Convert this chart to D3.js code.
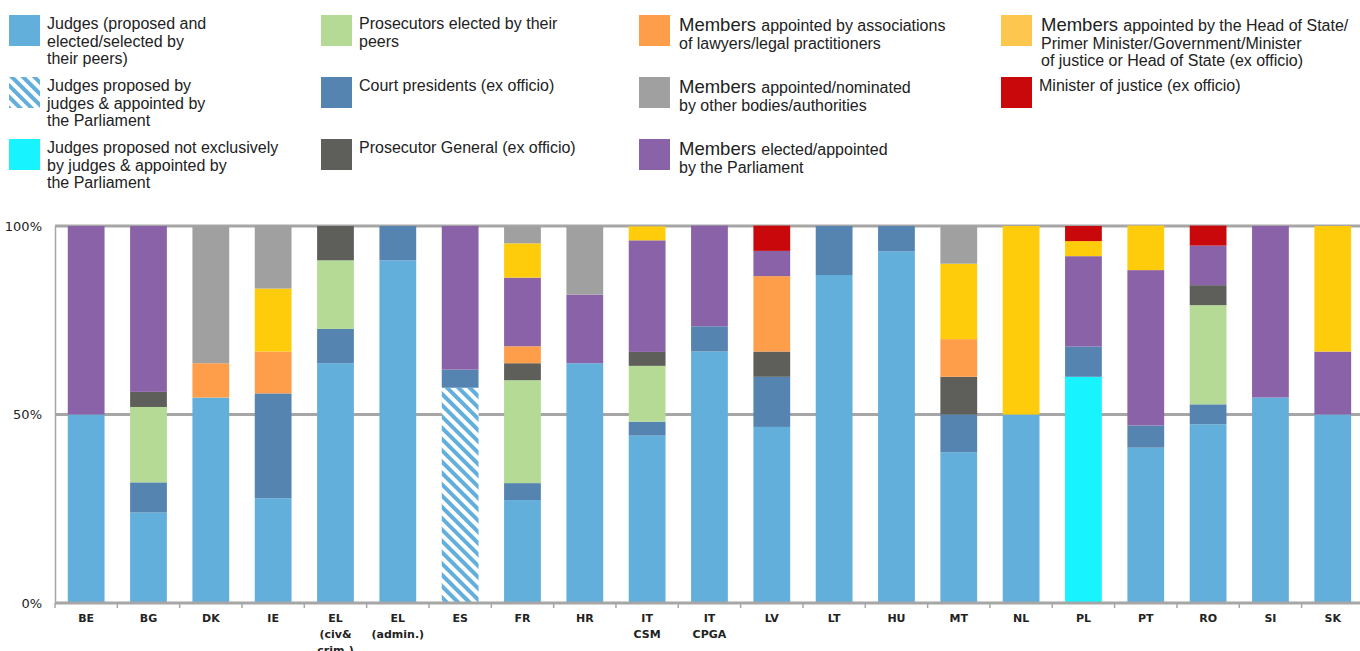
<!DOCTYPE html>
<html>
<head>
<meta charset="utf-8">
<script src="https://cdn.jsdelivr.net/npm/d3@7"></script>
<style>
  body { margin: 0; background: #fff; }
  svg { display: block; font-family: "Liberation Sans", Arial, sans-serif; }
</style>
</head>
<body>
<div class="chart-page"></div>
<script>
// categories (multi-line labels)
let categories = ["BE", "BG", "DK", "IE", "EL (civ&", "EL (admin.)", "ES", "FR", "HR", "IT CSM",
  "IT CPGA", "LV", "LT", "HU", "MT", "NL", "PL", "PT", "RO", "SI", "SK"];
let categoryLabels = [["BE"], ["BG"], ["DK"], ["IE"], ["EL", "(civ&", "crim.)"], ["EL", "(admin.)"],
  ["ES"], ["FR"], ["HR"], ["IT", "CSM"], ["IT", "CPGA"], ["LV"], ["LT"], ["HU"], ["MT"], ["NL"],
  ["PL"], ["PT"], ["RO"], ["SI"], ["SK"]];

// shares in % per council (same order as categories)
let judges       = [50, 24, 54.5, 27.8, 63.6, 90.9, 0, 27.3, 63.6, 44.4, 66.7, 46.7, 87, 93.3, 40, 50, 0, 41.2, 47.4, 54.5, 50];
let judgesParl   = [0, 0, 0, 0, 0, 0, 57.1, 0, 0, 0, 0, 0, 0, 0, 0, 0, 0, 0, 0, 0, 0];
let judgesMixed  = [0, 0, 0, 0, 0, 0, 0, 0, 0, 0, 0, 0, 0, 0, 0, 0, 60, 0, 0, 0, 0];
let courtPres    = [0, 8, 0, 27.8, 9.1, 9.1, 4.8, 4.5, 0, 3.7, 6.7, 13.3, 13, 6.7, 10, 0, 8, 5.9, 5.3, 0, 0];
let prosecutors  = [0, 20, 0, 0, 18.2, 0, 0, 27.3, 0, 14.8, 0, 0, 0, 0, 0, 0, 0, 0, 26.3, 0, 0];
let prosGeneral  = [0, 4, 0, 0, 9.1, 0, 0, 4.5, 0, 3.7, 0, 6.7, 0, 0, 10, 0, 0, 0, 5.3, 0, 0];
let lawyers      = [0, 0, 9.1, 11.1, 0, 0, 0, 4.5, 0, 0, 0, 20, 0, 0, 10, 0, 0, 0, 0, 0, 0];
let parliament   = [50, 44, 0, 0, 0, 0, 38.1, 18.2, 18.2, 29.6, 26.7, 6.7, 0, 0, 0, 0, 24, 41.2, 10.5, 45.5, 16.7];
let headOfState  = [0, 0, 0, 16.7, 0, 0, 0, 9.1, 0, 3.7, 0, 0, 0, 0, 20, 50, 4, 11.8, 0, 0, 33.3];
let otherBodies  = [0, 0, 36.4, 16.7, 0, 0, 0, 4.5, 18.2, 0, 0, 0, 0, 0, 10, 0, 0, 0, 0, 0, 0];
let minister     = [0, 0, 0, 0, 0, 0, 0, 0, 0, 0, 0, 6.7, 0, 0, 0, 0, 4, 0, 5.3, 0, 0];

let yTicks = [0, 50, 100];

let series = [
  { key: "judges", values: judges, color: "#62afdc" },
  { key: "judgesParl", values: judgesParl, color: "url(#hatch)" },
  { key: "judgesMixed", values: judgesMixed, color: "#17f4ff" },
  { key: "courtPres", values: courtPres, color: "#5584b0" },
  { key: "prosecutors", values: prosecutors, color: "#b4da96" },
  { key: "prosGeneral", values: prosGeneral, color: "#5e5f5a" },
  { key: "lawyers", values: lawyers, color: "#ff9e4a" },
  { key: "parliament", values: parliament, color: "#8a62a8" },
  { key: "headOfState", values: headOfState, color: "#ffcc0c" },
  { key: "otherBodies", values: otherBodies, color: "#a0a0a0" },
  { key: "minister", values: minister, color: "#c8080a" }
];

// legend: column, row, colour, lines (first word of "Members" lines drawn bigger)
let legendItems = [
  { col: 0, row: 0, color: "#62afdc", lines: ["Judges (proposed and", "elected/selected by", "their peers)"] },
  { col: 0, row: 1, color: "url(#hatch)", lines: ["Judges proposed by", "judges & appointed by", "the Parliament"] },
  { col: 0, row: 2, color: "#17f4ff", lines: ["Judges proposed not exclusively", "by judges & appointed by", "the Parliament"] },
  { col: 1, row: 0, color: "#b4da96", lines: ["Prosecutors elected by their", "peers"] },
  { col: 1, row: 1, color: "#5584b0", lines: ["Court presidents (ex officio)"] },
  { col: 1, row: 2, color: "#5e5f5a", lines: ["Prosecutor General (ex officio)"] },
  { col: 2, row: 0, color: "#ff9e4a", big: true, lines: ["appointed by associations", "of lawyers/legal practitioners"] },
  { col: 2, row: 1, color: "#a0a0a0", big: true, lines: ["appointed/nominated", "by other bodies/authorities"] },
  { col: 2, row: 2, color: "#8a62a8", big: true, lines: ["elected/appointed", "by the Parliament"] },
  { col: 3, row: 0, color: "#fdc64e", big: true, lines: ["appointed by the Head of State/", "Primer Minister/Government/Minister", "of justice or Head of State (ex officio)"] },
  { col: 3, row: 1, color: "#c8080a", lines: ["Minister of justice (ex officio)"] }
];

let width = 1360, height = 651;
let margin = { top: 226, left: 55, bottom: 48 };

let svg = d3.select(".chart-page")
  .append("svg")
  .attr("width", width)
  .attr("height", height);

let defs = svg.append("defs");
let pat = defs.append("pattern")
  .attr("id", "hatch")
  .attr("patternUnits", "userSpaceOnUse")
  .attr("width", 8)
  .attr("height", 8)
  .attr("patternTransform", "rotate(-45)");
pat.append("rect").attr("width", 8).attr("height", 8).attr("fill", "#fff");
pat.append("rect").attr("width", 4).attr("height", 8).attr("fill", "#62afdc");

let x = d3.scaleBand()
  .domain(categories)
  .range([margin.left, margin.left + 62.33 * categories.length])
  .paddingInner(0.41)
  .paddingOuter(0.205);

let y = d3.scaleLinear()
  .domain([0, 100])
  .range([603, margin.top]);

// gridlines behind bars
svg.append("g")
  .selectAll("line")
  .data(yTicks.filter(function(d) { return d > 0; }))
  .enter()
  .append("line")
  .attr("x1", margin.left)
  .attr("x2", width)
  .attr("y1", function(d) { return y(d); })
  .attr("y2", function(d) { return y(d); })
  .attr("stroke", "#a6a6a6")
  .attr("stroke-width", 3);

let stack = d3.stack()
  .keys(series.map(function(s) { return s.key; }))
  .value(function(d, key) { return d[key]; });

let rows = categories.map(function(c, i) {
  let row = { cat: c };
  series.forEach(function(s) { row[s.key] = s.values[i]; });
  return row;
});

let layers = stack(rows);

svg.append("g")
  .selectAll("g")
  .data(layers)
  .enter()
  .append("g")
  .attr("fill", function(d, i) { return series[i].color; })
  .selectAll("rect")
  .data(function(d) { return d.filter(function(p) { return p[1] - p[0] > 0; }); })
  .enter()
  .append("rect")
  .attr("x", function(d) { return x(d.data.cat); })
  .attr("width", x.bandwidth())
  .attr("y", function(d) { return y(d[1]); })
  .attr("height", function(d) { return y(d[0]) - y(d[1]); });

// y axis
let yAxis = svg.append("g")
  .attr("transform", "translate(" + margin.left + ",0)")
  .call(d3.axisLeft(y).tickValues(yTicks).tickSize(0).tickFormat(function(d) { return d + "%"; }));
yAxis.select(".domain").attr("stroke", "#a6a6a6").attr("stroke-width", 1.5);
yAxis.selectAll("text")
  .attr("x", -13)
  .attr("font-size", 13)
  .attr("font-family", "DejaVu Sans")
  .attr("fill", "#222");

// x axis (ticks between bands)
let xAxis = svg.append("g")
  .attr("transform", "translate(0,603)");
xAxis.append("line")
  .attr("x1", margin.left)
  .attr("x2", width)
  .attr("stroke", "#a6a6a6")
  .attr("stroke-width", 3);
xAxis.selectAll(".tick")
  .data(categories)
  .enter()
  .append("line")
  .attr("x1", function(d) { return x(d) - x.step() * x.paddingInner() / 2; })
  .attr("x2", function(d) { return x(d) - x.step() * x.paddingInner() / 2; })
  .attr("y1", 0)
  .attr("y2", 5)
  .attr("stroke", "#a6a6a6")
  .attr("stroke-width", 1.5);

let labels = xAxis.selectAll(".cat")
  .data(categories)
  .enter()
  .append("text")
  .attr("class", "cat")
  .attr("text-anchor", "middle")
  .attr("font-size", 11)
  .attr("font-weight", "bold")
  .attr("font-family", "DejaVu Sans")
  .attr("fill", "#222")
  .attr("transform", function(d) { return "translate(" + (x(d) + x.bandwidth() / 2) + ",19)"; });

labels.selectAll("tspan")
  .data(function(d, i) { return categoryLabels[i]; })
  .enter()
  .append("tspan")
  .attr("x", 0)
  .attr("dy", function(d, i) { return i === 0 ? 0 : 16; })
  .text(function(d) { return d; });

// legend
let colX = [9, 321, 639, 1001];
let rowY = [15, 77, 139];

let legend = svg.append("g").attr("class", "legend");

let li = legend.selectAll("g")
  .data(legendItems)
  .enter()
  .append("g")
  .attr("transform", function(d) { return "translate(" + colX[d.col] + "," + rowY[d.row] + ")"; });

li.append("rect")
  .attr("width", 31)
  .attr("height", 31)
  .attr("fill", function(d) { return d.color; });

li.each(function(d) {
  let t = d3.select(this).append("text")
    .attr("fill", "#222")
    .attr("font-size", 16);
  d.lines.forEach(function(line, i) {
    let ty = (d.big ? 16 : 14) + i * 17.5;
    if (i === 0 && d.big) {
      t.append("tspan")
        .attr("x", 40)
        .attr("y", ty)
        .attr("font-size", 18.5)
        .text("Members ");
      t.append("tspan").text(line);
    } else {
      t.append("tspan")
        .attr("x", d.big && i > 0 ? 40 : 38)
        .attr("y", ty)
        .text(line);
    }
  });
});
</script>
</body>
</html>
